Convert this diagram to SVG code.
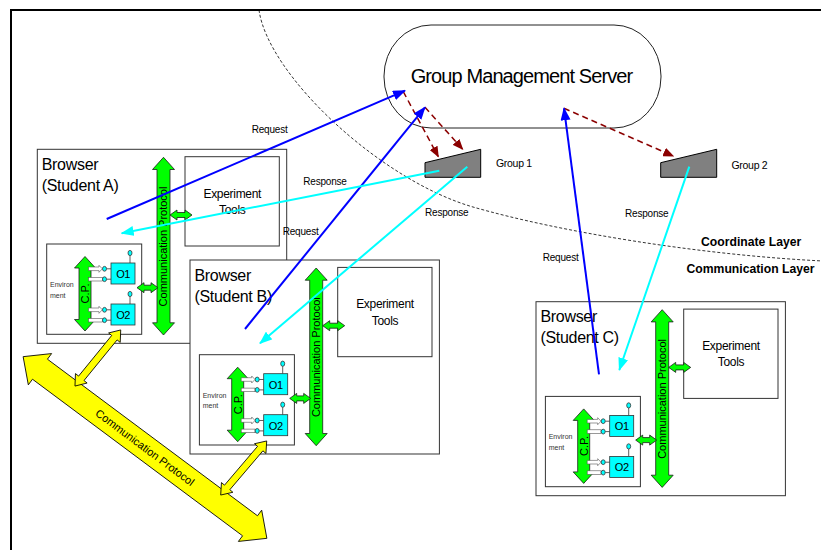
<svg xmlns="http://www.w3.org/2000/svg" width="821" height="550" viewBox="0 0 821 550">
<style>
text{font-family:"Liberation Sans",Arial,sans-serif;fill:#000}
.box{fill:#fff;stroke:#333;stroke-width:1}
.green{fill:#00FF00;stroke:#1a1a1a;stroke-width:0.8}
.obj{fill:#00FFFF;stroke:#333;stroke-width:0.8}
.pipe{fill:#fff;stroke:#555;stroke-width:0.6}
.wire{stroke:#333;stroke-width:0.8}
.yellow{fill:#FFFF00;stroke:#000;stroke-width:0.8}
.title{font-size:16px;letter-spacing:-0.3px}
.et{font-size:12px;text-anchor:middle;letter-spacing:-0.3px}
.cp{font-size:11px;text-anchor:middle}
.env{font-size:7px;fill:#333}
.ot{font-size:11px;text-anchor:middle;letter-spacing:-0.5px}
.lbl{font-size:10px;letter-spacing:-0.2px}
.layer{font-size:12.2px;font-weight:bold}
.req{stroke:#0000FF;stroke-width:2;fill:none}
.resp{stroke:#00FFFF;stroke-width:2;fill:none}
.asg{stroke:#8B0000;stroke-width:1.5;stroke-dasharray:6 4;fill:none}
</style>
<defs>
<marker id="mBlue" viewBox="0 0 13 10" refX="12" refY="5" markerWidth="13" markerHeight="10" markerUnits="userSpaceOnUse" orient="auto"><path d="M0,0 L13,5 L0,10 z" fill="#0000FF"/></marker>
<marker id="mCyan" viewBox="0 0 13 10" refX="12" refY="5" markerWidth="13" markerHeight="10" markerUnits="userSpaceOnUse" orient="auto"><path d="M0,0 L13,5 L0,10 z" fill="#00FFFF"/></marker>
<marker id="mRed" viewBox="0 0 11 9" refX="10" refY="4.5" markerWidth="11" markerHeight="9" markerUnits="userSpaceOnUse" orient="auto"><path d="M0,0 L11,4.5 L0,9 z" fill="#8B0000"/></marker>
</defs>
<rect width="821" height="550" fill="#fff"/>
<g id="frame" fill="none" stroke="#000" stroke-width="2">
<path d="M11,550 V10 H821"/>
</g>
<g id="layers">
<path d="M259,10 C268,75 380,180 473,207 C560,232 700,255 823,261" fill="none" stroke="#000" stroke-width="0.8" stroke-dasharray="3 2"/>
<text class="layer" x="701" y="246">Coordinate Layer</text>
<text class="layer" x="686.5" y="273">Communication Layer</text>
</g>
<g id="server">
<rect x="384" y="25" width="277" height="103" rx="47" ry="51" fill="#fff" stroke="#222" stroke-width="1"/>
<text x="521.5" y="83" font-size="20" letter-spacing="-0.9" text-anchor="middle">Group Management Server</text>
</g>
<g id="group1">
<polygon points="425,162.7 480.7,149.3 480.7,177.3 425,177.3" fill="#808080" stroke="#000" stroke-width="1"/>
<text x="496" y="167" font-size="10.5" letter-spacing="-0.3">Group 1</text>
</g>
<g id="group2">
<polygon points="660.7,162.7 716.7,149.3 716.7,177.3 660.7,177.3" fill="#808080" stroke="#000" stroke-width="1"/>
<text x="731.5" y="169" font-size="10.5" letter-spacing="-0.3">Group 2</text>
</g>

<g id="browserA">
<rect class="box" x="37.3" y="149.3" width="249.4" height="194"/>
<text class="title" x="41.7" y="170">Browser</text>
<text class="title" x="41.7" y="191">(Student A)</text>
<rect class="box" x="185" y="156.7" width="94.3" height="89.3"/>
<text class="et" x="232.3" y="197.5">Experiment</text>
<text class="et" x="232.3" y="214">Tools</text>
<polygon class="green" points="163.5,157.3 174.5,169.5 170,169.5 170,322.8 174.5,322.8 163.5,335 152.5,322.8 157,322.8 157,169.5 152.5,169.5"/>
<text class="cp" transform="translate(163.5,246.5) rotate(-90)" y="3.9">Communication Protocol</text>
<polygon class="green" points="170,215 177,210 177,212.5 185,212.5 185,210 192,215 185,220 185,217.5 177,217.5 177,220"/>
<rect class="box" x="46.7" y="244" width="95" height="90.3"/>
<text class="env" x="50" y="287">Environ</text>
<text class="env" x="50" y="297.5">ment</text>
<polygon class="green" points="85,256.5 95.5,268 91,268 91,319.5 95.5,319.5 85,331 74.5,319.5 79,319.5 79,268 74.5,268"/>
<text class="cp" font-size="10.5" transform="translate(85,293.5) rotate(-90)" y="3.8">C.P.</text>
<path class="pipe" d="M88.5,267 H99 V265.3 L102.3,268.8 L99,272.3 V270.6 H88.5 Z"/>
<rect class="pipe" x="88.5" y="277.4" width="13.8" height="3.6"/>
<line class="wire" x1="106.5" y1="268.8" x2="111" y2="268.8"/>
<line class="wire" x1="106.5" y1="279.2" x2="111" y2="279.2"/>
<ellipse class="obj" cx="104.5" cy="268.8" rx="2" ry="2.4"/>
<ellipse class="obj" cx="104.5" cy="279.2" rx="2" ry="2.4"/>
<line class="wire" x1="130" y1="255.5" x2="130" y2="263"/>
<ellipse class="obj" cx="130" cy="253" rx="2" ry="2.6"/>
<rect class="obj" x="111" y="263" width="24" height="21"/>
<text class="ot" x="123" y="278">O1</text>
<path class="pipe" d="M88.5,308 H99 V306.3 L102.3,309.8 L99,313.3 V311.6 H88.5 Z"/>
<rect class="pipe" x="88.5" y="318.4" width="13.8" height="3.6"/>
<line class="wire" x1="106.5" y1="309.8" x2="111" y2="309.8"/>
<line class="wire" x1="106.5" y1="320.2" x2="111" y2="320.2"/>
<ellipse class="obj" cx="104.5" cy="309.8" rx="2" ry="2.4"/>
<ellipse class="obj" cx="104.5" cy="320.2" rx="2" ry="2.4"/>
<line class="wire" x1="130" y1="296.5" x2="130" y2="304"/>
<ellipse class="obj" cx="130" cy="294" rx="2" ry="2.6"/>
<rect class="obj" x="111" y="304" width="24" height="21"/>
<text class="ot" x="123" y="319">O2</text>
<polygon class="green" points="137,287.7 144,282.7 144,285.2 151,285.2 151,282.7 158,287.7 151,292.7 151,290.2 144,290.2 144,292.7"/>
</g>

<g id="browserB" transform="translate(152.7,110.7)">
<rect class="box" x="37.3" y="149.3" width="249.4" height="194"/>
<text class="title" x="41.7" y="170">Browser</text>
<text class="title" x="41.7" y="191">(Student B)</text>
<rect class="box" x="185" y="156.7" width="94.3" height="89.3"/>
<text class="et" x="232.3" y="197.5">Experiment</text>
<text class="et" x="232.3" y="214">Tools</text>
<polygon class="green" points="163.5,157.3 174.5,169.5 170,169.5 170,322.8 174.5,322.8 163.5,335 152.5,322.8 157,322.8 157,169.5 152.5,169.5"/>
<text class="cp" transform="translate(163.5,246.5) rotate(-90)" y="3.9">Communication Protocol</text>
<polygon class="green" points="170,215 177,210 177,212.5 185,212.5 185,210 192,215 185,220 185,217.5 177,217.5 177,220"/>
<rect class="box" x="46.7" y="244" width="95" height="90.3"/>
<text class="env" x="50" y="287">Environ</text>
<text class="env" x="50" y="297.5">ment</text>
<polygon class="green" points="85,256.5 95.5,268 91,268 91,319.5 95.5,319.5 85,331 74.5,319.5 79,319.5 79,268 74.5,268"/>
<text class="cp" font-size="10.5" transform="translate(85,293.5) rotate(-90)" y="3.8">C.P.</text>
<path class="pipe" d="M88.5,267 H99 V265.3 L102.3,268.8 L99,272.3 V270.6 H88.5 Z"/>
<rect class="pipe" x="88.5" y="277.4" width="13.8" height="3.6"/>
<line class="wire" x1="106.5" y1="268.8" x2="111" y2="268.8"/>
<line class="wire" x1="106.5" y1="279.2" x2="111" y2="279.2"/>
<ellipse class="obj" cx="104.5" cy="268.8" rx="2" ry="2.4"/>
<ellipse class="obj" cx="104.5" cy="279.2" rx="2" ry="2.4"/>
<line class="wire" x1="130" y1="255.5" x2="130" y2="263"/>
<ellipse class="obj" cx="130" cy="253" rx="2" ry="2.6"/>
<rect class="obj" x="111" y="263" width="24" height="21"/>
<text class="ot" x="123" y="278">O1</text>
<path class="pipe" d="M88.5,308 H99 V306.3 L102.3,309.8 L99,313.3 V311.6 H88.5 Z"/>
<rect class="pipe" x="88.5" y="318.4" width="13.8" height="3.6"/>
<line class="wire" x1="106.5" y1="309.8" x2="111" y2="309.8"/>
<line class="wire" x1="106.5" y1="320.2" x2="111" y2="320.2"/>
<ellipse class="obj" cx="104.5" cy="309.8" rx="2" ry="2.4"/>
<ellipse class="obj" cx="104.5" cy="320.2" rx="2" ry="2.4"/>
<line class="wire" x1="130" y1="296.5" x2="130" y2="304"/>
<ellipse class="obj" cx="130" cy="294" rx="2" ry="2.6"/>
<rect class="obj" x="111" y="304" width="24" height="21"/>
<text class="ot" x="123" y="319">O2</text>
<polygon class="green" points="137,287.7 144,282.7 144,285.2 151,285.2 151,282.7 158,287.7 151,292.7 151,290.2 144,290.2 144,292.7"/>
</g>

<g id="browserC" transform="translate(498.7,152.4)">
<rect class="box" x="37.3" y="149.3" width="249.4" height="194"/>
<text class="title" x="41.7" y="170">Browser</text>
<text class="title" x="41.7" y="191">(Student C)</text>
<rect class="box" x="185" y="156.7" width="94.3" height="89.3"/>
<text class="et" x="232.3" y="197.5">Experiment</text>
<text class="et" x="232.3" y="214">Tools</text>
<polygon class="green" points="163.5,157.3 174.5,169.5 170,169.5 170,322.8 174.5,322.8 163.5,335 152.5,322.8 157,322.8 157,169.5 152.5,169.5"/>
<text class="cp" transform="translate(163.5,246.5) rotate(-90)" y="3.9">Communication Protocol</text>
<polygon class="green" points="170,215 177,210 177,212.5 185,212.5 185,210 192,215 185,220 185,217.5 177,217.5 177,220"/>
<rect class="box" x="46.7" y="244" width="95" height="90.3"/>
<text class="env" x="50" y="287">Environ</text>
<text class="env" x="50" y="297.5">ment</text>
<polygon class="green" points="85,256.5 95.5,268 91,268 91,319.5 95.5,319.5 85,331 74.5,319.5 79,319.5 79,268 74.5,268"/>
<text class="cp" font-size="10.5" transform="translate(85,293.5) rotate(-90)" y="3.8">C.P.</text>
<path class="pipe" d="M88.5,267 H99 V265.3 L102.3,268.8 L99,272.3 V270.6 H88.5 Z"/>
<rect class="pipe" x="88.5" y="277.4" width="13.8" height="3.6"/>
<line class="wire" x1="106.5" y1="268.8" x2="111" y2="268.8"/>
<line class="wire" x1="106.5" y1="279.2" x2="111" y2="279.2"/>
<ellipse class="obj" cx="104.5" cy="268.8" rx="2" ry="2.4"/>
<ellipse class="obj" cx="104.5" cy="279.2" rx="2" ry="2.4"/>
<line class="wire" x1="130" y1="255.5" x2="130" y2="263"/>
<ellipse class="obj" cx="130" cy="253" rx="2" ry="2.6"/>
<rect class="obj" x="111" y="263" width="24" height="21"/>
<text class="ot" x="123" y="278">O1</text>
<path class="pipe" d="M88.5,308 H99 V306.3 L102.3,309.8 L99,313.3 V311.6 H88.5 Z"/>
<rect class="pipe" x="88.5" y="318.4" width="13.8" height="3.6"/>
<line class="wire" x1="106.5" y1="309.8" x2="111" y2="309.8"/>
<line class="wire" x1="106.5" y1="320.2" x2="111" y2="320.2"/>
<ellipse class="obj" cx="104.5" cy="309.8" rx="2" ry="2.4"/>
<ellipse class="obj" cx="104.5" cy="320.2" rx="2" ry="2.4"/>
<line class="wire" x1="130" y1="296.5" x2="130" y2="304"/>
<ellipse class="obj" cx="130" cy="294" rx="2" ry="2.6"/>
<rect class="obj" x="111" y="304" width="24" height="21"/>
<text class="ot" x="123" y="319">O2</text>
<polygon class="green" points="137,287.7 144,282.7 144,285.2 151,285.2 151,282.7 158,287.7 151,292.7 151,290.2 144,290.2 144,292.7"/>
</g>

<g id="commBus">
<g transform="translate(145,447.5) rotate(36.7)">
<polygon class="yellow" points="-152,0 -131,-19.5 -131,-12.5 131,-12.5 131,-19.5 152,0 131,19.5 131,12.5 -131,12.5 -131,19.5"/>
<text x="0" y="3.9" font-size="11" text-anchor="middle">Communication Protocol</text>
</g>
</g>

<g id="connectors">
<polygon class="yellow" transform="translate(97.85,358) rotate(-50.8)" points="-36.2,0 -26.2,-7.5 -26.2,-3.5 26.2,-3.5 26.2,-7.5 36.2,0 26.2,7.5 26.2,3.5 -26.2,3.5 -26.2,7.5"/>
<polygon class="yellow" transform="translate(243.7,468) rotate(-49.6)" points="-35.5,0 -25.5,-7.5 -25.5,-3.5 25.5,-3.5 25.5,-7.5 35.5,0 25.5,7.5 25.5,3.5 -25.5,3.5 -25.5,7.5"/>
<line class="asg" x1="403.3" y1="91.7" x2="438.3" y2="156.7" marker-end="url(#mRed)"/>
<line class="asg" x1="425" y1="107.3" x2="462.7" y2="149.3" marker-end="url(#mRed)"/>
<line class="asg" x1="564" y1="108.3" x2="673.3" y2="156" marker-end="url(#mRed)"/>
<line class="req" x1="106.7" y1="219" x2="405" y2="90.7" marker-end="url(#mBlue)"/>
<line class="req" x1="245" y1="329" x2="425" y2="107.3" marker-end="url(#mBlue)"/>
<line class="req" x1="599" y1="374.3" x2="564" y2="108.3" marker-end="url(#mBlue)"/>
<line class="resp" x1="439.3" y1="170.7" x2="121.7" y2="233.3" marker-end="url(#mCyan)"/>
<line class="resp" x1="467.3" y1="166.7" x2="260" y2="343.3" marker-end="url(#mCyan)"/>
<line class="resp" x1="689.3" y1="166.7" x2="619.3" y2="370" marker-end="url(#mCyan)"/>
<text class="lbl" x="251.7" y="133">Request</text>
<text class="lbl" x="303.3" y="185">Response</text>
<text class="lbl" x="282.7" y="235">Request</text>
<text class="lbl" x="425" y="215.5">Response</text>
<text class="lbl" x="625" y="217">Response</text>
<text class="lbl" x="542.7" y="261">Request</text>
</g>
</svg>
